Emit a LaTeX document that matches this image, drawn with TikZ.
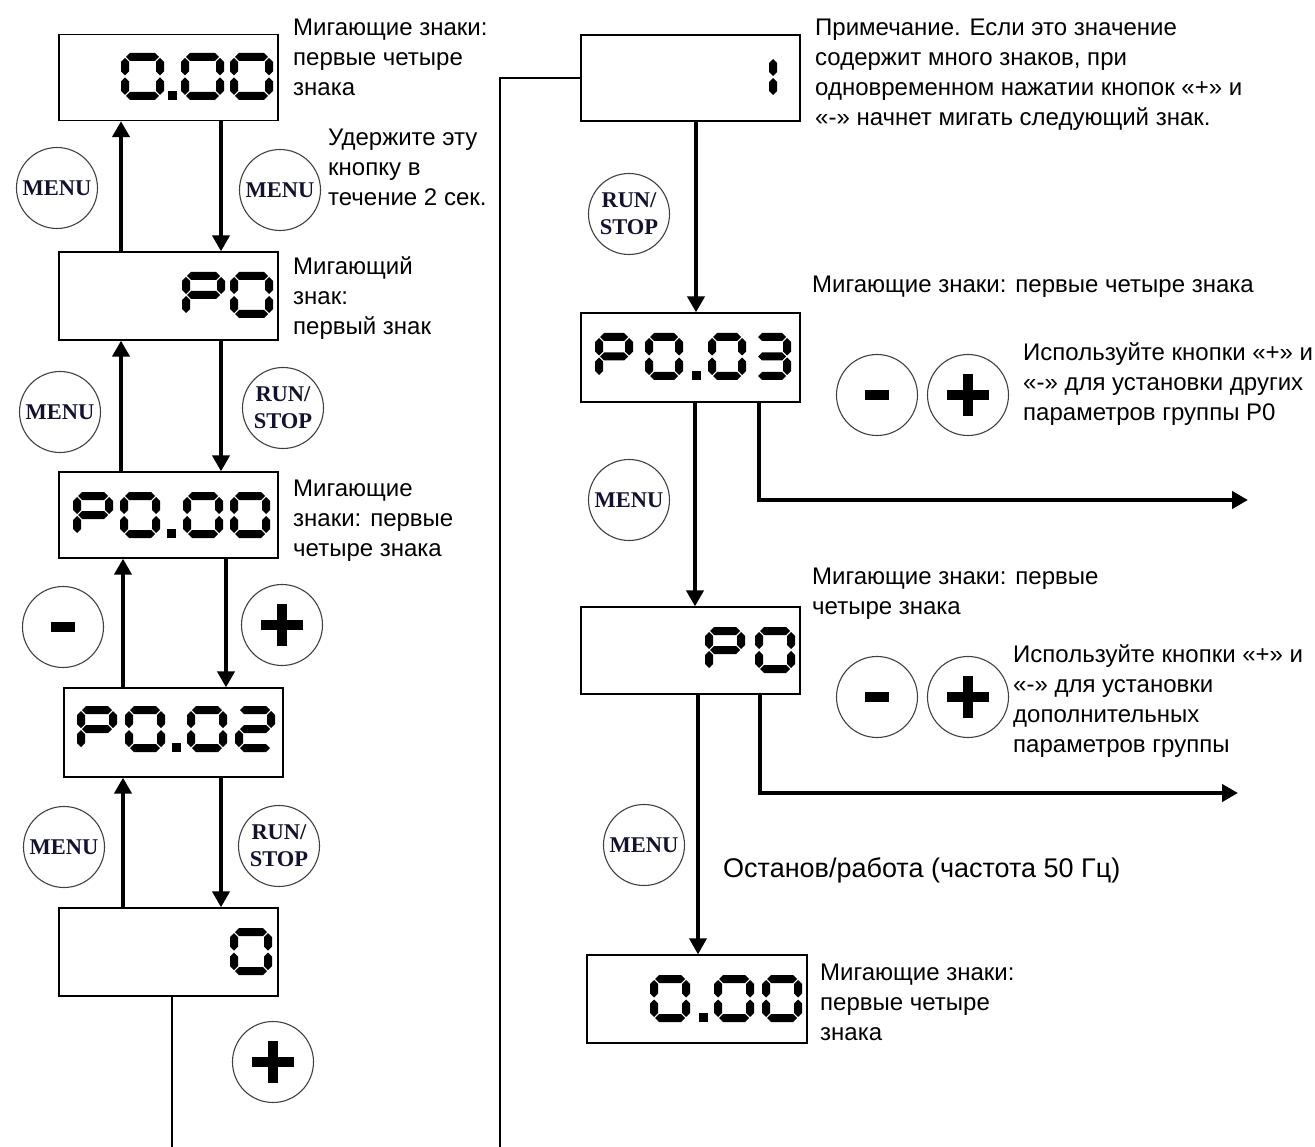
\documentclass[tikz,border=0pt]{standalone}
\usepackage{fontspec}
\setmainfont{Liberation Sans}
\newfontfamily\btnfont{Liberation Serif}
\usetikzlibrary{arrows.meta}
\definecolor{btntext}{RGB}{18,18,48}
\newcommand\tx{\fontsize{24}{30}\selectfont}
\newcommand\txbig{\fontsize{27}{32}\selectfont}
\def\dW{40}\def\dH{46}
\newcommand\hsg[3]{\fill ({#1},{#3}) -- ({#1+4},{#3-4}) -- ({#2-4},{#3-4}) -- ({#2},{#3}) -- ({#2-4},{#3+4}) -- ({#1+4},{#3+4}) -- cycle;}
\newcommand\vsg[3]{\fill ({#1},{#2}) -- ({#1+4},{#2+4}) -- ({#1+4},{#3-4}) -- ({#1},{#3}) -- ({#1-4},{#3-4}) -- ({#1-4},{#2+4}) -- cycle;}
\newcommand\segA[2]{\hsg{#1+5}{#1+\dW-5}{#2+4}}
\newcommand\segG[2]{\hsg{#1+5}{#1+\dW-5}{#2+\dH/2}}
\newcommand\segD[2]{\hsg{#1+5}{#1+\dW-5}{#2+\dH-4}}
\newcommand\segF[2]{\vsg{#1+4}{#2+5}{#2+\dH/2-1}}
\newcommand\segB[2]{\vsg{#1+\dW-4}{#2+5}{#2+\dH/2-1}}
\newcommand\segE[2]{\vsg{#1+4}{#2+\dH/2+1}{#2+\dH-5}}
\newcommand\segC[2]{\vsg{#1+\dW-4}{#2+\dH/2+1}{#2+\dH-5}}
\newcommand\sdigit[3]{\edef\seglist{#3}\foreach \s in \seglist {\csname seg\s\endcsname{#1}{#2}}}
\newcommand\segdot[2]{\fill (#1,{#2+\dH-9}) rectangle ++(9,9);}
\def\Zero{A,B,C,D,E,F}
\def\Pee{A,B,E,F,G}
\def\Two{A,B,G,E,D}
\def\Three{A,B,G,C,D}
\newcommand\plussym[1]{\fill ([xshift=-21pt,yshift=-5pt]#1.center) rectangle ([xshift=21pt,yshift=5pt]#1.center);
  \fill ([xshift=-5pt,yshift=-21pt]#1.center) rectangle ([xshift=5pt,yshift=21pt]#1.center);}
\newcommand\minussym[1]{\fill ([xshift=-12pt,yshift=-5pt]#1.center) rectangle ([xshift=12pt,yshift=5pt]#1.center);}
\begin{document}
\begin{tikzpicture}[x=1pt,y=-1pt,
  box/.style={draw, line width=1.3pt, inner sep=0, minimum width=219pt, minimum height=86pt},
  btn/.style={circle, draw=black!75, line width=1.1pt, minimum size=81pt, inner sep=0,
    font=\btnfont\bfseries\fontsize{22.5}{27}\selectfont, text=btntext, align=center},
  arr/.style={line width=4.5pt, -{Triangle[length=16pt,width=17pt]}},
  thinline/.style={line width=1.3pt},
  lbl/.style={anchor=north west, inner sep=0, align=left, font=\tx}]
\useasboundingbox (0,0) rectangle (1315,1147);
% boxes
\node[box] (b1) at (168.5,77.5) {};
\node[box, minimum height=88pt] (b2) at (168.5,296) {};
\node[box] (b3) at (168.5,515) {};
\node[box, minimum height=89pt] (b4) at (173.5,732.5) {};
\node[box, minimum height=88pt] (b5) at (168.5,952) {};
\node[box] (b6) at (690.5,78) {};
\node[box, minimum height=89pt] (b7) at (690.5,357.5) {};
\node[box, minimum height=87pt] (b8) at (690.5,650.5) {};
\node[box, minimum width=220pt, minimum height=88pt] (b9) at (697,999) {};
% digits
\def\dW{43}\def\dH{47}
\sdigit{121}{53}{\Zero}\segdot{168}{53}\sdigit{181}{53}{\Zero}\sdigit{230}{53}{\Zero}
\def\dW{43}\def\dH{46}
\sdigit{182}{272}{\Pee}\sdigit{230}{272}{\Zero}
\def\dW{40}\def\dH{46}
\sdigit{73}{492}{\Pee}\sdigit{120}{492}{\Zero}\segdot{167}{492}\sdigit{183}{492}{\Zero}\sdigit{230}{492}{\Zero}
\sdigit{77}{706}{\Pee}\sdigit{125}{706}{\Zero}\segdot{172}{706}\sdigit{187}{706}{\Zero}\sdigit{235}{706}{\Two}
\def\dW{42}\def\dH{47}
\sdigit{230}{928}{\Zero}
\def\dW{40}\def\dH{46}
\sdigit{737}{54}{B,C}
\def\dW{38}\def\dH{47}
\sdigit{595}{333}{\Pee}\sdigit{645}{333}{\Zero}\segdot{692}{333}\sdigit{708}{333}{\Zero}\sdigit{753}{333}{\Three}
\def\dW{40}\def\dH{46}
\sdigit{705}{627}{\Pee}\sdigit{755}{627}{\Zero}
\def\dW{40}\def\dH{47}
\sdigit{650}{975}{\Zero}\segdot{699}{975}\sdigit{714}{975}{\Zero}\sdigit{762}{975}{\Zero}
% buttons
\node[btn] (k1) at (57,188) {MENU};
\node[btn] (k2) at (280,190) {MENU};
\node[btn] (k3) at (60,412) {MENU};
\node[btn] (k4) at (283,408) {RUN/\\STOP};
\node[btn] (k5) at (63,627) {};
\node[btn] (k6) at (282,625) {};
\node[btn] (k7) at (64,847) {MENU};
\node[btn] (k8) at (279,846) {RUN/\\STOP};
\node[btn] (k9) at (273,1062) {};
\node[btn] (k10) at (629,214) {RUN/\\STOP};
\node[btn] (k11) at (877,395) {};
\node[btn] (k12) at (968,395) {};
\node[btn] (k13) at (629,500) {MENU};
\node[btn] (k14) at (877,697) {};
\node[btn] (k15) at (968,697) {};
\node[btn] (k16) at (644,845) {MENU};
\minussym{k5}\plussym{k6}\plussym{k9}
\minussym{k11}\plussym{k12}\minussym{k14}\plussym{k15}
% left column arrows
\draw[arr] ([xshift=-47.5pt]b2.north) -- ([xshift=-47.5pt]b1.south);
\draw[arr] ([xshift=52.5pt]b1.south) -- ([xshift=52.5pt]b2.north);
\draw[arr] ([xshift=-47.5pt]b3.north) -- ([xshift=-47.5pt]b2.south);
\draw[arr] ([xshift=52.5pt]b2.south) -- ([xshift=52.5pt]b3.north);
\draw[arr] ([xshift=-50.5pt]b4.north) -- ([xshift=-50.5pt]b4.north |- b3.south);
\draw[arr] ([xshift=57.5pt]b3.south) -- ([xshift=57.5pt]b3.south |- b4.north);
\draw[arr] ([xshift=-45.5pt]b5.north) -- ([xshift=-45.5pt]b5.north |- b4.south);
\draw[arr] ([xshift=47.5pt]b4.south) -- ([xshift=47.5pt]b4.south |- b5.north);
% thin connector lines
\coordinate (e1) at (172,1147);
\coordinate (e2) at (500,1147);
\draw[thinline] (b5.south -| e1) -- (e1);
\draw[thinline] (b6.west) -| (e2);
% right column arrows
\coordinate (r1) at (1248,500);
\coordinate (r2) at (1238,793);
\draw[arr] ([xshift=5.5pt]b6.south) -- ([xshift=5.5pt]b6.south |- b7.north);
\draw[arr] ([xshift=4.5pt]b7.south) -- ([xshift=4.5pt]b7.south |- b8.north);
\draw[arr, line width=3.5pt] ([xshift=7.5pt]b8.south) -- ([xshift=7.5pt]b8.south |- b9.north);
\draw[arr] ([xshift=68.5pt]b7.south) |- (r1);
\draw[arr] ([xshift=69.5pt]b8.south) |- (r2);
% labels
\node[lbl] (t1) at (293,14) {\strut Мигающие знаки:\\первые четыре\\знака};
\node[lbl] (t2) at (328,124) {\strut Удержите эту\\кнопку в\\течение 2 сек.};
\node[lbl] (t3) at (293,253) {\strut Мигающий\\знак:\\первый знак};
\node[lbl] (t4) at (293,475) {\strut Мигающие\\знаки: первые\\четыре знака};
\node[lbl] (t5) at (815,14) {\strut Примечание. Если это значение\\содержит много знаков, при\\одновременном нажатии кнопок «+» и\\«-» начнет мигать следующий знак.};
\node[lbl] (t6) at (812,271) {\strut Мигающие знаки: первые четыре знака};
\node[lbl] (t7) at (1023,339) {\strut Используйте кнопки «+» и\\«-» для установки других\\параметров группы P0};
\node[lbl] (t8) at (812,563) {\strut Мигающие знаки: первые\\четыре знака};
\node[lbl] (t9) at (1013,641) {\strut Используйте кнопки «+» и\\«-» для установки\\дополнительных\\параметров группы};
\node[lbl, font=\txbig] (t10) at (723,855) {\strut Останов/работа (частота 50 Гц)};
\node[lbl] (t11) at (820,959) {\strut Мигающие знаки:\\первые четыре\\знака};
\end{tikzpicture}
\end{document}
